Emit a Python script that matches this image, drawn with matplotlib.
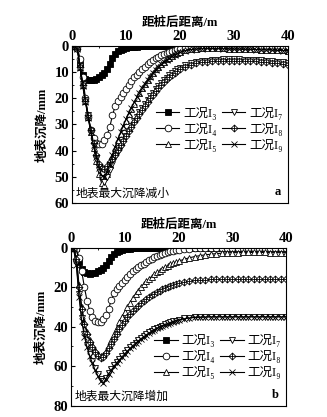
import numpy as np
import matplotlib
matplotlib.use("Agg")
import matplotlib.pyplot as plt
from matplotlib.path import Path

plt.rcParams['font.family'] = ['Liberation Serif', 'Noto Sans CJK SC', 'DejaVu Serif']

# distance behind pile (m), dense up to 20 m then every 1 m
x = [0, 0.5, 1, 1.5, 2, 2.5, 3, 3.5, 4, 4.5, 5, 5.5, 6, 6.5, 7, 7.5, 8, 8.5, 9, 9.5,
     10, 10.5, 11, 11.5, 12, 12.5, 13, 13.5, 14, 14.5, 15, 15.5, 16, 16.5, 17, 17.5,
     18, 18.5, 19, 19.5, 20,
     21, 22, 23, 24, 25, 26, 27, 28, 29, 30, 31, 32, 33, 34, 35, 36, 37, 38, 39, 40]

# settlement (mm) -- I3 and I4 same in both panels
I3 = [0, 0, 0.3, 7, 11, 12.5, 13, 13.2, 13, 12.6, 12, 11.2, 10.2, 8.8, 6.8, 4.5, 3, 2.1, 1.5, 1.1,
      0.8, 0.6, 0.45, 0.35, 0.25, 0.2, 0.15, 0.1, 0.1, 0.05, 0.05, 0.05, 0, 0, 0, 0, 0, 0, 0, 0, 0,
      0, 0, 0, 0, 0, 0, 0, 0, 0, 0, 0, 0, 0, 0, 0, 0, 0, 0, 0, 0]
I4 = [0, 0, 0.5, 5, 12, 20, 27, 32, 35, 37, 37.5, 37.4, 36, 34, 31, 26.5, 23, 21, 19.5, 18,
      16.5, 15, 13.5, 12, 11, 10, 9, 8, 7, 6.2, 5.5, 4.8, 4.2, 3.6, 3.1, 2.7, 2.3, 1.9, 1.6, 1.3, 1.1,
      0.8, 0.6, 0.4, 0.3, 0.2, 0.15, 0.1, 0.1, 0, 0, 0, 0, 0, 0, 0, 0, 0, 0, 0, 0]

# panel a
I5a = [0, 0.2, 1, 8, 15, 21, 27, 33, 39, 44, 49, 52.5, 53, 49, 45.5, 42, 39, 36, 33.5, 31,
       28.5, 26, 24, 22, 20, 18, 16.2, 14.5, 13, 11.5, 10.2, 9, 7.9, 6.9, 6, 5.2, 4.5, 3.8, 3.2, 2.7, 2.3,
       1.7, 1.3, 1.1, 1.0, 1.0, 1.0, 1.0, 1.0, 1.1, 1.1, 1.2, 1.2, 1.3, 1.3, 1.4, 1.5, 1.5, 1.6, 1.7, 1.8]
I7a = [0, 0.2, 1, 7.5, 14.5, 20.5, 26.5, 32.5, 38, 43, 47.5, 50.5, 52, 50, 47.5, 45, 42.5, 40.5, 38.5, 36.5,
       34.5, 32.5, 30.5, 28.7, 27, 25.3, 23.7, 22.1, 20.6, 19.2, 17.8, 16.5, 15.3, 14.2, 13.1, 12.1, 11.2, 10.4, 9.6, 8.9, 8.3,
       7.4, 6.7, 6.2, 5.9, 5.6, 5.4, 5.3, 5.2, 5.2, 5.2, 5.2, 5.3, 5.3, 5.4, 5.5, 5.6, 5.8, 6, 6.3, 6.6]
I8a = [0, 0.3, 1.3, 8, 15, 21, 26.5, 32, 37, 41.5, 45, 46.8, 47, 46, 44.5, 43, 41.5, 39.8, 38, 36.2,
       34.4, 32.6, 30.9, 29.2, 27.6, 26, 24.4, 22.9, 21.4, 20, 18.6, 17.3, 16.1, 14.9, 13.8, 12.8, 11.9, 11, 10.2, 9.5, 8.9,
       7.9, 7.2, 6.7, 6.3, 6, 5.8, 5.7, 5.6, 5.6, 5.6, 5.7, 5.7, 5.8, 5.9, 6, 6.2, 6.4, 6.6, 6.9, 7.2]
I9a = [0, 0.3, 1.2, 8.5, 15.5, 21.5, 27.5, 33, 38, 42.5, 46.5, 49.5, 50, 48, 45, 41.5, 38.5, 35.5, 33, 30.5,
       28, 25.7, 23.6, 21.6, 19.7, 17.9, 16.2, 14.6, 13.1, 11.7, 10.4, 9.2, 8.1, 7.1, 6.2, 5.4, 4.7, 4, 3.4, 2.9, 2.5,
       1.8, 1.4, 1.2, 1.1, 1.0, 1.0, 1.0, 1.1, 1.1, 1.2, 1.2, 1.3, 1.3, 1.4, 1.5, 1.5, 1.6, 1.7, 1.8, 1.9]

# panel b
I5b = [0, 0.3, 5, 19, 30, 37.5, 42.5, 46.5, 49.5, 52, 54, 55, 54.5, 52.5, 49.5, 46.5, 43.5, 40.5, 37.5, 35,
       32.5, 30, 27.8, 25.6, 23.5, 21.7, 20, 18.5, 17.1, 15.8, 14.6, 13.5, 12.5, 11.6, 10.7, 9.9, 9.2, 8.5, 7.9, 7.3, 6.8,
       5.9, 5.1, 4.5, 4, 3.6, 3.3, 3, 2.8, 2.6, 2.5, 2.5, 2.4, 2.4, 2.4, 2.4, 2.4, 2.5, 2.5, 2.5, 2.5]
I7b = [0, 0.5, 7.5, 23.5, 35.5, 43.5, 49.5, 54, 57.5, 61, 64, 66.5, 67.5, 66, 63.5, 61.5, 59.5, 57.8, 56.2, 54.7,
       53.2, 51.8, 50.4, 49.2, 48, 46.9, 45.8, 44.8, 43.8, 42.9, 42.1, 41.3, 40.6, 40, 39.4, 38.8, 38.3, 37.8, 37.3, 36.9, 36.5,
       35.8, 35.4, 35.2, 35.1, 35, 34.9, 34.9, 34.9, 34.9, 34.9, 34.9, 34.9, 34.9, 34.9, 34.9, 34.9, 34.9, 34.9, 34.9, 34.9]
I8b = [0, 0.3, 5.5, 20, 31, 38.5, 43.5, 47.5, 50.5, 53, 55, 56, 55.5, 53.5, 51, 48.5, 46, 43.5, 41.2, 39,
       37, 35.2, 33.5, 32, 30.6, 29.3, 28.1, 27, 26, 25, 24.1, 23.3, 22.5, 21.8, 21.1, 20.5, 19.9, 19.4, 18.9, 18.5, 18.1,
       17.5, 17, 16.6, 16.3, 16.1, 16, 16, 16, 16, 16, 16, 16, 16, 16, 16, 16, 16, 16, 16, 16]
I9b = [0, 0.8, 9, 25, 37, 45, 50.5, 55, 58.5, 62, 65, 67.5, 68.5, 66.5, 64, 62, 60, 58.3, 56.7, 55.2,
       53.7, 52.3, 50.9, 49.6, 48.4, 47.2, 46.1, 45.1, 44.1, 43.2, 42.3, 41.5, 40.8, 40.1, 39.5, 38.9, 38.4, 37.9, 37.4, 37, 36.6,
       36, 35.6, 35.3, 35.2, 35.1, 35, 35, 35, 35, 35, 35, 35, 35, 35, 35, 35, 35, 35, 35, 35]

labels = ['工况I\u2083', '工况I\u2084', '工况I\u2085', '工况I\u2087', '工况I\u2088', '工况I\u2089']

# diamond with a cross inside
diamond_plus = Path([(0, 1), (1, 0), (0, -1), (-1, 0), (0, 1), (0, 1), (0, -1), (-1, 0), (1, 0)],
                    [Path.MOVETO, Path.LINETO, Path.LINETO, Path.LINETO, Path.CLOSEPOLY,
                     Path.MOVETO, Path.LINETO, Path.MOVETO, Path.LINETO])
styles = [dict(marker='s', mfc='black', ms=3.8),
          dict(marker='o', mfc='white', ms=4.8),
          dict(marker='^', mfc='white', ms=4.8),
          dict(marker='v', mfc='white', ms=4.8),
          dict(marker=diamond_plus, mfc='white', ms=5),
          dict(marker='x', mfc='white', ms=4.8)]


def draw_panel(ax, series, ymax, ystep, note, tag):
    for y, lab, st in zip(series, labels, styles):
        ax.plot(x, y, color='black', lw=0.8, mec='black', mew=0.6, label=lab, **st)
    ax.set_xlim(0, 40)
    ax.set_ylim(ymax, 0)
    ax.set_xticks([0, 10, 20, 30, 40])
    ax.set_xticks([5, 15, 25, 35], minor=True)
    ax.set_yticks(np.arange(0, ymax + 1, ystep))
    ax.set_yticks(np.arange(ystep / 2, ymax, ystep), minor=True)
    ax.xaxis.tick_top()
    ax.xaxis.set_label_position('top')
    ax.tick_params(which='both', direction='in', top=True, bottom=False, right=False,
                   labelsize=10.5, pad=2)
    ax.tick_params(which='major', length=3)
    ax.tick_params(which='minor', length=1.5)
    for t in ax.get_xticklabels() + ax.get_yticklabels():
        t.set_fontweight('bold')
    ax.set_xlabel('距桩后距离/m', fontsize=9, fontweight='bold', labelpad=3)
    ax.set_ylabel('地表沉降/mm', fontsize=9, fontweight='bold', labelpad=4)
    for s in ax.spines.values():
        s.set_linewidth(0.8)
    ax.text(0.015, 0.02, note, transform=ax.transAxes, fontsize=8.5, ha='left', va='bottom')
    ax.text(0.95, 0.03, tag, transform=ax.transAxes, fontsize=9, fontweight='bold',
            ha='center', va='bottom')


fig = plt.figure(figsize=(3.27, 4.17), dpi=100)
ax1 = fig.add_axes([0.220, 0.513, 0.661, 0.377])
ax2 = fig.add_axes([0.217, 0.027, 0.658, 0.379])

draw_panel(ax1, [I3, I4, I5a, I7a, I8a, I9a], 60, 10, '地表最大沉降减小', 'a')
draw_panel(ax2, [I3, I4, I5b, I7b, I8b, I9b], 80, 20, '地表最大沉降增加', 'b')

for ax, yc in [(ax1, 0.47), (ax2, 0.31)]:
    ax.legend(ncol=2, frameon=False, loc='center right', bbox_to_anchor=(1.01, yc),
              fontsize=9, handlelength=1.9, handletextpad=0.3, columnspacing=0.4,
              labelspacing=0.25, borderpad=0.1)

fig.savefig('out.png', dpi=100)
